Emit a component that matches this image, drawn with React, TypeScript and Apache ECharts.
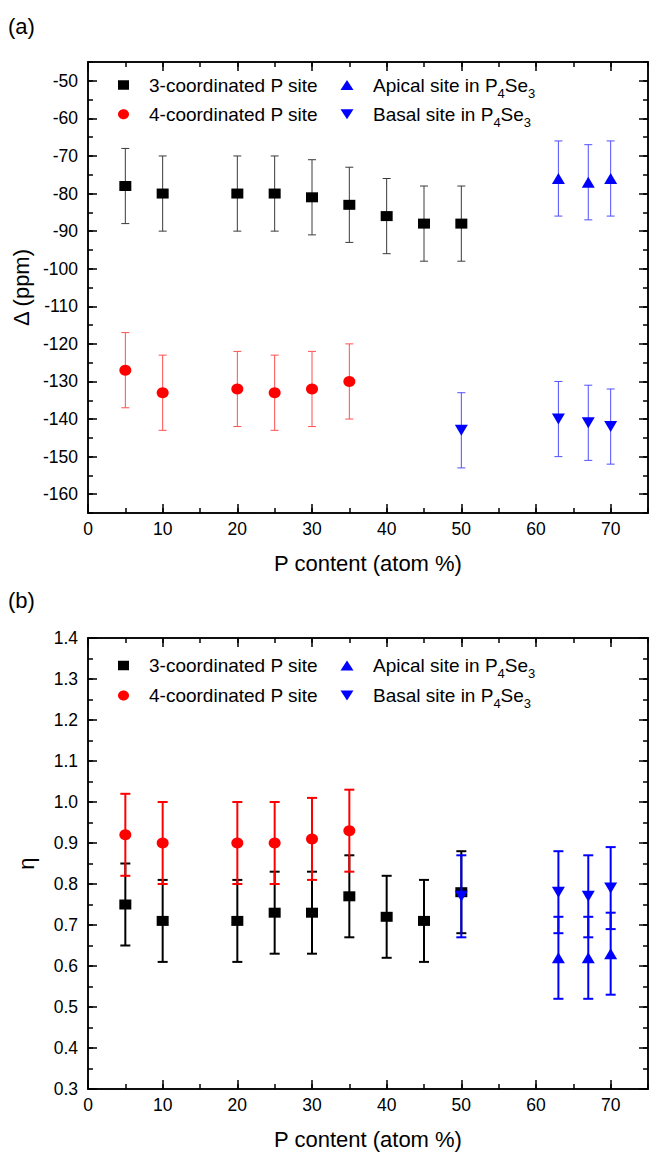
import React, { useEffect, useRef } from "react";
import * as echarts from "echarts";

const FONT = "'Liberation Sans', Arial, Helvetica, sans-serif";

// ---- categories / tick labels ----
const X_MAJOR = [0, 10, 20, 30, 40, 50, 60, 70];
const DELTA_TICKS = [-160, -150, -140, -130, -120, -110, -100, -90, -80, -70, -60, -50];
const ETA_TICKS = [0.3, 0.4, 0.5, 0.6, 0.7, 0.8, 0.9, 1.0, 1.1, 1.2, 1.3, 1.4];

// ---- series names ----
const N3 = "3-coordinated P site";
const N4 = "4-coordinated P site";
const NA = "Apical site in P4Se3";
const NB = "Basal site in P4Se3";

// ---- panel (a): Delta (ppm) ----
const x3 = [5, 10, 20, 25, 30, 35, 40, 45, 50];
const delta3 = [-78, -80, -80, -80, -81, -83, -86, -88, -88];
const delta3Err = [10, 10, 10, 10, 10, 10, 10, 10, 10];
const x4 = [5, 10, 20, 25, 30, 35];
const delta4 = [-127, -133, -132, -133, -132, -130];
const delta4Err = [10, 10, 10, 10, 10, 10];
const xApical = [63, 67, 70];
const deltaApical = [-76, -77, -76];
const deltaApicalErr = [10, 10, 10];
const xBasal = [50, 63, 67, 70];
const deltaBasal = [-143, -140, -141, -142];
const deltaBasalErr = [10, 10, 10, 10];

// ---- panel (b): eta ----
const eta3 = [0.75, 0.71, 0.71, 0.73, 0.73, 0.77, 0.72, 0.71, 0.78];
const eta3Err = [0.1, 0.1, 0.1, 0.1, 0.1, 0.1, 0.1, 0.1, 0.1];
const eta4 = [0.92, 0.9, 0.9, 0.9, 0.91, 0.93];
const eta4Err = [0.1, 0.1, 0.1, 0.1, 0.1, 0.1];
const etaApical = [0.62, 0.62, 0.63];
const etaApicalErr = [0.1, 0.1, 0.1];
const etaBasal = [0.77, 0.78, 0.77, 0.79];
const etaBasalErr = [0.1, 0.1, 0.1, 0.1];

// ---- symbols ----
const UP_SYM = "path://M6.5,0L13,11L0,11Z";
const DN_SYM = "path://M0,0L13,0L6.5,11Z";

function errBars(name: string, xs: number[], ys: number[], errs: number[], color: string, width: number, cap: number, xi: number, yi: number, z: number) {
  return {
    type: "custom",
    name,
    xAxisIndex: xi,
    yAxisIndex: yi,
    z,
    clip: false,
    silent: true,
    encode: { x: 0, y: [1, 2] },
    data: xs.map((x, i) => [x, ys[i] - errs[i], ys[i] + errs[i]]),
    renderItem: (_p: any, api: any) => {
      const x = api.value(0);
      const a = api.coord([x, api.value(1)]);
      const b = api.coord([x, api.value(2)]);
      const h = cap / 2;
      const st = { stroke: color, lineWidth: width };
      return {
        type: "group",
        children: [
          { type: "line", shape: { x1: a[0], y1: a[1], x2: b[0], y2: b[1] }, style: st },
          { type: "line", shape: { x1: a[0] - h, y1: a[1], x2: a[0] + h, y2: a[1] }, style: st },
          { type: "line", shape: { x1: b[0] - h, y1: b[1], x2: b[0] + h, y2: b[1] }, style: st },
        ],
      };
    },
  };
}

function points(name: string, xs: number[], ys: number[], symbol: string, size: number[], color: string, xi: number, yi: number, z: number) {
  return {
    type: "scatter",
    name,
    xAxisIndex: xi,
    yAxisIndex: yi,
    z,
    clip: false,
    symbol,
    symbolSize: size,
    itemStyle: { color, opacity: 1 },
    data: xs.map((x, i) => [x, ys[i]]),
  };
}

const AXIS_LINE = { show: true, onZero: false, lineStyle: { color: "#000", width: 1.5 } };
const TICK_STYLE = { color: "#000", width: 1.5 };
const TICK_FONT = 17.5;

function xAxesFor(grid: number) {
  const base = { type: "value", gridIndex: grid, min: 0, max: 75, splitLine: { show: false } };
  return [
    {
      ...base,
      position: "bottom",
      axisLine: AXIS_LINE,
      axisTick: { show: true, inside: true, length: 9, customValues: X_MAJOR, lineStyle: TICK_STYLE },
      axisLabel: { show: true, customValues: X_MAJOR, margin: 7, fontSize: TICK_FONT, color: "#000", fontFamily: FONT },
      name: "P content (atom %)",
      nameLocation: "middle",
      nameGap: 39,
      nameTextStyle: { fontSize: 22, color: "#000", fontFamily: FONT },
    },
    {
      ...base,
      position: "bottom",
      interval: 5,
      axisLine: AXIS_LINE,
      axisTick: { show: true, inside: true, length: 5, lineStyle: TICK_STYLE },
      axisLabel: { show: false },
    },
    {
      ...base,
      position: "top",
      axisLine: AXIS_LINE,
      axisTick: { show: true, inside: true, length: 9, customValues: X_MAJOR, lineStyle: TICK_STYLE },
      axisLabel: { show: false },
    },
    {
      ...base,
      position: "top",
      interval: 5,
      axisLine: AXIS_LINE,
      axisTick: { show: true, inside: true, length: 5, lineStyle: TICK_STYLE },
      axisLabel: { show: false },
    },
  ];
}

function yAxesFor(grid: number, min: number, max: number, ticks: number[], minor: number, name: string, fmt: (v: number) => string) {
  const base = { type: "value", gridIndex: grid, min, max, splitLine: { show: false } };
  return [
    {
      ...base,
      position: "left",
      axisLine: AXIS_LINE,
      axisTick: { show: true, inside: true, length: 9, customValues: ticks, lineStyle: TICK_STYLE },
      axisLabel: { show: true, customValues: ticks, margin: 10, fontSize: TICK_FONT, color: "#000", fontFamily: FONT, formatter: fmt },
      name,
      nameLocation: "middle",
      nameGap: 51,
      nameRotate: 90,
      nameTextStyle: { fontSize: 22, color: "#000", fontFamily: FONT },
    },
    {
      ...base,
      position: "left",
      interval: minor,
      axisLine: AXIS_LINE,
      axisTick: { show: true, inside: true, length: 5, lineStyle: TICK_STYLE },
      axisLabel: { show: false },
    },
    {
      ...base,
      position: "right",
      axisLine: AXIS_LINE,
      axisTick: { show: true, inside: true, length: 9, customValues: ticks, lineStyle: TICK_STYLE },
      axisLabel: { show: false },
    },
    {
      ...base,
      position: "right",
      interval: minor,
      axisLine: AXIS_LINE,
      axisTick: { show: true, inside: true, length: 5, lineStyle: TICK_STYLE },
      axisLabel: { show: false },
    },
  ];
}

// legend drawn with graphic elements (two columns)
const LEG_COL_MARK = [123.5, 347];
const LEG_COL_TEXT = [149, 373];
const LEG_FONT = 19;

function legendGraphics(rows: number[]) {
  const items: any[] = [];
  const [m1, m2] = LEG_COL_MARK;
  const [r1, r2] = rows;
  items.push({ type: "rect", shape: { x: m1 - 5.5, y: r1 - 4.75, width: 11, height: 9.5 }, style: { fill: "#000" } });
  items.push({ type: "ellipse", shape: { cx: m1, cy: r2, rx: 5.5, ry: 5 }, style: { fill: "#ff0000" } });
  items.push({ type: "polygon", shape: { points: [[m2, r1 - 5], [m2 + 6.5, r1 + 5], [m2 - 6.5, r1 + 5]] }, style: { fill: "#0000ff" } });
  items.push({ type: "polygon", shape: { points: [[m2 - 6.5, r2 - 5], [m2 + 6.5, r2 - 5], [m2, r2 + 5]] }, style: { fill: "#0000ff" } });
  const sub = { fontSize: 13, fontFamily: FONT, fill: "#000", lineHeight: 22, verticalAlign: "middle", padding: [16, 0, 0, 0] };
  const texts = [
    [LEG_COL_TEXT[0], r1, N3],
    [LEG_COL_TEXT[0], r2, N4],
    [LEG_COL_TEXT[1], r1, NA.replace("P4Se3", "P{sub|4}Se{sub|3}")],
    [LEG_COL_TEXT[1], r2, NB.replace("P4Se3", "P{sub|4}Se{sub|3}")],
  ];
  texts.forEach(([x, y, t]) => {
    items.push({
      type: "text",
      x,
      y,
      style: {
        text: t,
        fontSize: LEG_FONT,
        fontFamily: FONT,
        fill: "#000",
        lineHeight: 22,
        verticalAlign: "middle",
        align: "left",
        rich: { sub },
      },
    });
  });
  return items;
}

export default function App() {
  const ref = useRef<HTMLDivElement>(null);
  useEffect(() => {
    if (!ref.current) return;
    const chart = echarts.init(ref.current, null, { renderer: "svg" });
    const series: any[] = [
      // panel (a)
      errBars("e3a", x3, delta3, delta3Err, "#3a3a3a", 1, 8, 0, 0, 2),
      points(N3, x3, delta3, "rect", [12, 10], "#000000", 0, 0, 3),
      errBars("e4a", x4, delta4, delta4Err, "#ff5050", 1, 8, 0, 0, 4),
      points(N4, x4, delta4, "circle", [12, 11], "#ff0000", 0, 0, 5),
      errBars("eAa", xApical, deltaApical, deltaApicalErr, "#5050ff", 1, 8, 0, 0, 6),
      points(NA, xApical, deltaApical, UP_SYM, [13, 11], "#0000ff", 0, 0, 7),
      errBars("eBa", xBasal, deltaBasal, deltaBasalErr, "#5050ff", 1, 8, 0, 0, 8),
      points(NB, xBasal, deltaBasal, DN_SYM, [13, 11], "#0000ff", 0, 0, 9),
      // panel (b)
      errBars("e3b", x3, eta3, eta3Err, "#000000", 2, 10, 4, 4, 2),
      points(N3, x3, eta3, "rect", [12, 10], "#000000", 4, 4, 3),
      errBars("e4b", x4, eta4, eta4Err, "#ff0000", 2, 10, 4, 4, 4),
      points(N4, x4, eta4, "circle", [12, 11], "#ff0000", 4, 4, 5),
      errBars("eAb", xApical, etaApical, etaApicalErr, "#0000ff", 2, 10, 4, 4, 6),
      points(NA, xApical, etaApical, UP_SYM, [13, 11], "#0000ff", 4, 4, 7),
      errBars("eBb", xBasal, etaBasal, etaBasalErr, "#0000ff", 2, 10, 4, 4, 8),
      points(NB, xBasal, etaBasal, DN_SYM, [13, 11], "#0000ff", 4, 4, 9),
    ];
    const option: any = {
      animation: false,
      backgroundColor: "#ffffff",
      textStyle: { fontFamily: FONT },
      grid: [
        { left: 88, top: 62, width: 560, height: 451 },
        { left: 88, top: 638, width: 560, height: 451 },
      ],
      xAxis: [...xAxesFor(0), ...xAxesFor(1)],
      yAxis: [
        ...yAxesFor(0, -165, -45, DELTA_TICKS, 5, "Δ (ppm)", (v: number) => String(v)),
        ...yAxesFor(1, 0.3, 1.4, ETA_TICKS, 0.05, "η", (v: number) => v.toFixed(1)),
      ],
      graphic: [
        { type: "text", left: 8, top: 15, style: { text: "(a)", fontSize: 22, fontFamily: FONT, fill: "#000" } },
        { type: "text", left: 8, top: 589, style: { text: "(b)", fontSize: 22, fontFamily: FONT, fill: "#000" } },
        ...legendGraphics([85, 114.3]),
        ...legendGraphics([665.5, 695.5]),
      ],
      series,
    };
    chart.setOption(option);
    return () => chart.dispose();
  }, []);
  return (
    <div
      ref={ref}
      style={{ position: "fixed", left: 0, top: 0, width: 649, height: 1154, background: "#fff" }}
    />
  );
}
